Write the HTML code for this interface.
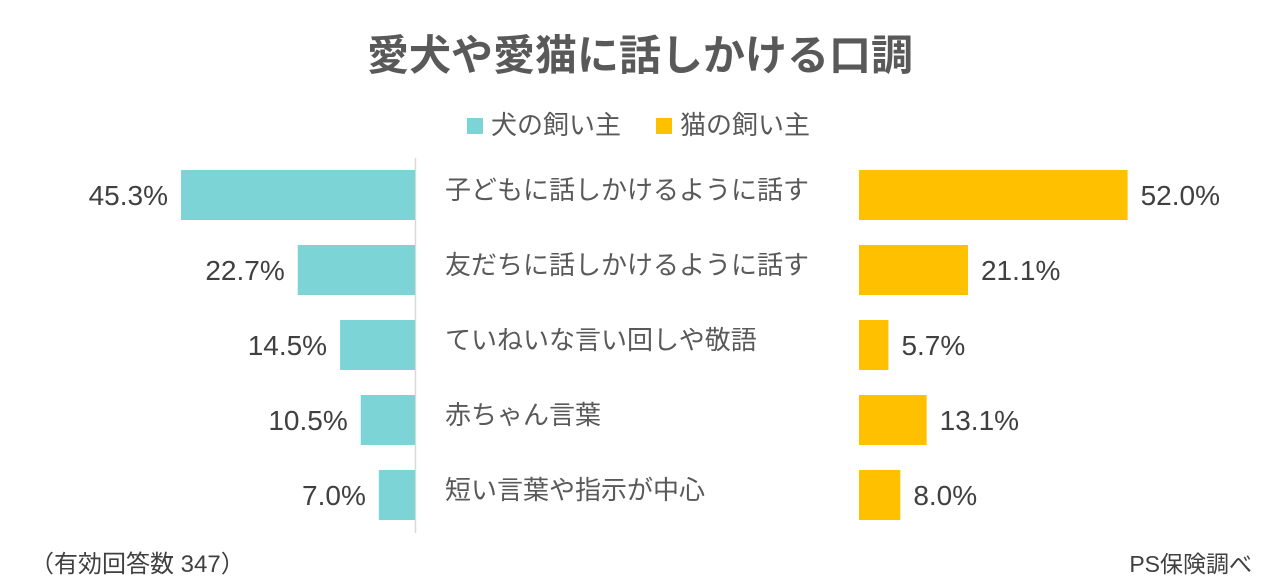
<!DOCTYPE html>
<html><head><meta charset="utf-8"><style>
html,body{margin:0;padding:0;background:#fff;width:1280px;height:587px;overflow:hidden}
body{font-family:"Liberation Sans","Noto Sans CJK JP",sans-serif}
</style></head><body>
<svg id="chart" width="1280" height="587" xmlns="http://www.w3.org/2000/svg" font-family="Liberation Sans, Noto Sans CJK JP, sans-serif">
<text x="640" y="70" text-anchor="middle" font-size="42" font-weight="bold" fill="#595959">愛犬や愛猫に話しかける口調</text>
<g>
<rect x="467" y="118" width="16" height="16" fill="#7dd4d6"/>
<text x="491" y="134" font-size="26" fill="#595959">犬の飼い主</text>
<rect x="656" y="118" width="16" height="16" fill="#ffc000"/>
<text x="680" y="134" font-size="26" fill="#595959">猫の飼い主</text>
</g>
<line x1="415.5" y1="158" x2="415.5" y2="533" stroke="#d9d9d9" stroke-width="1.5"/>
<g id="bars"></g>
<text x="30" y="572" font-size="24" fill="#404040">（有効回答数 347）</text>
<text x="1252" y="572" text-anchor="end" font-size="23" fill="#404040">PS保険調べ</text>
</svg>
<script>
const categories=["子どもに話しかけるように話す","友だちに話しかけるように話す","ていねいな言い回しや敬語","赤ちゃん言葉","短い言葉や指示が中心"];
const dogValues=[45.3,22.7,14.5,10.5,7.0];
const catValues=[52.0,21.1,5.7,13.1,8.0];
const ns="http://www.w3.org/2000/svg";
const g=document.getElementById('bars');
const scale=v=>v*5.165;
const rowY=i=>195+i*75;
const barH=50;
function mk(tag,attrs){const e=document.createElementNS(ns,tag);for(const k in attrs)e.setAttribute(k,attrs[k]);g.appendChild(e);return e;}
categories.forEach((c,i)=>{
 const cy=rowY(i);
 const dw=scale(dogValues[i]);
 const b1=mk('rect',{x:415-dw,y:cy-barH/2,width:dw,height:barH,fill:'#7dd4d6'});
 
 
 const t1=mk('text',{x:415-dw-13,y:cy+10,'text-anchor':'end','font-size':28,fill:'#404040'});
 t1.textContent=dogValues[i].toFixed(1)+'%';
 
 
 const cw=scale(catValues[i]);
 const b2=mk('rect',{x:859,y:cy-barH/2,width:cw,height:barH,fill:'#ffc000'});
 
 
 const t2=mk('text',{x:859+cw+13,y:cy+10,'font-size':28,fill:'#404040'});
 t2.textContent=catValues[i].toFixed(1)+'%';
 
 
 const l=mk('text',{x:445,y:cy+4,'font-size':26,fill:'#595959'});
 l.textContent=c;
 
 
});
</script>
</body></html>
